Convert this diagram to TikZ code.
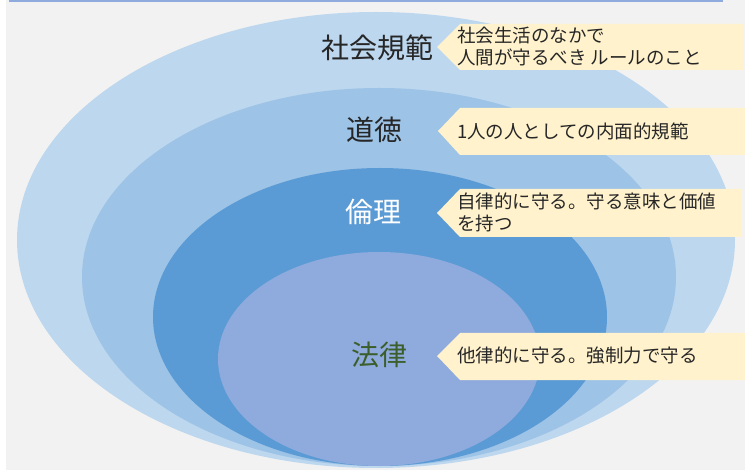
\documentclass[tikz,border=0pt]{standalone}
\usepackage{fontspec}
\setmainfont{Noto Sans CJK JP}
\definecolor{bgc}{HTML}{F2F2F2}
\definecolor{ringA}{HTML}{BDD7EE}
\definecolor{ringB}{HTML}{9DC3E6}
\definecolor{ringC}{HTML}{5B9BD5}
\definecolor{ringD}{HTML}{8FAADC}
\definecolor{callc}{HTML}{FFF2CC}
\definecolor{txtc}{HTML}{262626}
\definecolor{lawc}{HTML}{3B5E2B}
\definecolor{topc}{HTML}{8FAADC}
\tikzset{
  lab/.style={inner sep=0pt, font=\fontsize{28bp}{32bp}\selectfont, text=txtc},
  desc/.style={inner sep=0pt, anchor=west, align=left, text=txtc,
    font=\fontsize{18.5bp}{22bp}\selectfont},
  callout/.style={fill=callc}
}
\begin{document}
\begin{tikzpicture}[x=1bp,y=-1bp]
\useasboundingbox (0,0) rectangle (745,475);
\fill[white] (0,0) rectangle (745,475);
\fill[bgc] (6,0) rectangle (745,470);
\fill[topc] (9,0) rectangle (723,2.5);
% nested ellipses
\fill[ringA] (376,240) ellipse [x radius=359, y radius=228];
\fill[ringB] (379,277) ellipse [x radius=297, y radius=189];
\fill[ringC] (380,317) ellipse [x radius=227, y radius=149];
\fill[ringD] (379,359) ellipse [x radius=161, y radius=107];
% labels
\node[lab] (shakai) at (377,48) {社会規範};
\node[lab] (dotoku) at (374,130) {道徳};
\node[lab, text=white] (rinri) at (373,212) {倫理};
\node[lab, text=lawc] (horitsu) at (379,355) {法律};
% callouts
\coordinate (t1) at (437,47);
\fill[callout] (t1) -- (460,24) -- (743,24) -- (743,70) -- (460,70) -- cycle;
\node[desc] (d1) at (457,46) {社会生活のなかで\\人間が守るべき ルールのこと};
\coordinate (t2) at (438,131);
\fill[callout] (t2) -- (460,108) -- (745,108) -- (745,155) -- (460,155) -- cycle;
\node[desc] (d2) at (457,131) {1人の人としての内面的規範};
\coordinate (t3) at (437,213);
\fill[callout] (t3) -- (460,189) -- (742,189) -- (742,237) -- (460,237) -- cycle;
\node[desc] (d3) at (457,212.5) {自律的に守る。守る意味と価値\\を持つ};
\coordinate (t4) at (437,356);
\fill[callout] (t4) -- (460,333) -- (745,333) -- (745,380) -- (460,380) -- cycle;
\node[desc] (d4) at (457,356) {他律的に守る。強制力で守る};
\end{tikzpicture}
\end{document}
